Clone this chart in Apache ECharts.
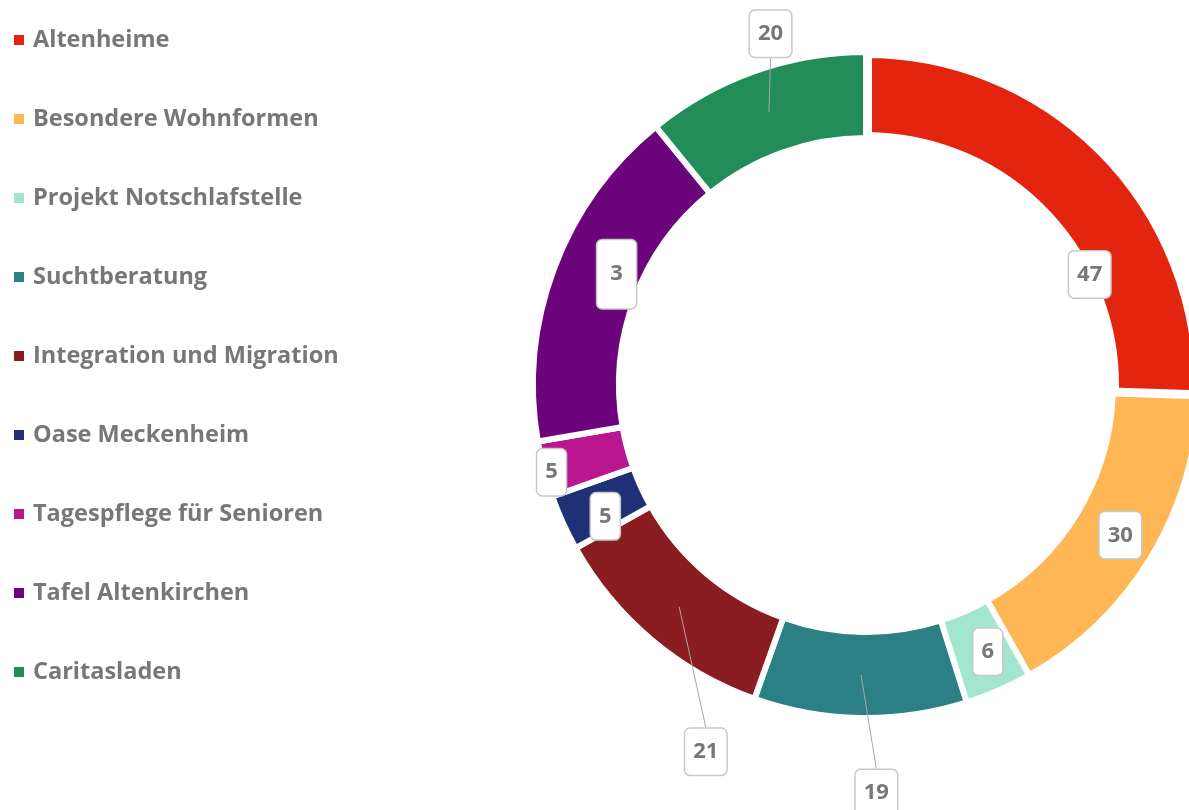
<!DOCTYPE html>
<html>
<head>
<meta charset="utf-8">
<script src="https://cdn.jsdelivr.net/npm/echarts@6/dist/echarts.min.js"></script>
<style>
  html, body { margin: 0; padding: 0; background: #fff; }
  #chart { width: 1189px; height: 810px; }
</style>
</head>
<body>
<div id="chart"></div>
<script>
// Daten
var categories = ['Altenheime', 'Besondere Wohnformen', 'Projekt Notschlafstelle', 'Suchtberatung',
  'Integration und Migration', 'Oase Meckenheim', 'Tagespflege für Senioren', 'Tafel Altenkirchen', 'Caritasladen'];
var values = [47, 30, 6, 19, 21, 5, 5, 31, 20];
var labelTexts = ['47', '30', '6', '19', '21', '5', '5', '3', '20'];
var colors = ['#e32510', '#ffb655', '#a3e6d0', '#2b7f85', '#8b1c21', '#203076', '#b9168f', '#6c057c', '#238d5a'];

// Beschriftungen wie im Original verschoben
var outsideIdx = [3, 4, 8];
var labelNudge = [[13, 93], [4, -2], [5, -2], [42, 50], [96, 93], [6, 10], [-31, 13], [25, -8], [50, -14]];

var pieData = categories.map(function (name, i) {
  var item = { name: name, value: values[i], itemStyle: { color: colors[i] } };
  if (i === 0) item.itemStyle.borderWidth = 12;
  return item;
});

// zweite, unsichtbare Serie nur fuer Beschriftungen + Linien (liegt oben)
var labelData = categories.map(function (name, i) {
  var item = { name: name, value: values[i] };
  if (outsideIdx.indexOf(i) >= 0) {
    item.label = { position: 'outside' };
    item.labelLine = { show: true };
  }
  if (i === 7) item.label = { padding: [23, 13] };
  return item;
});

var myChart = echarts.init(document.getElementById('chart'));
var option = {
  animation: false,
  color: colors,
  legend: {
    orient: 'vertical',
    left: 12,
    top: 28,
    padding: 0,
    icon: 'rect',
    itemWidth: 12,
    itemHeight: 12,
    itemGap: 55,
    selectedMode: false,
    textStyle: {
      fontFamily: 'Open Sans',
      fontWeight: 'bold',
      fontSize: 23.5,
      lineHeight: 24,
      color: '#777777',
      padding: [0, 0, 0, 3]
    },
    data: categories
  },
  series: [{
    type: 'pie',
    center: [866, 385],
    radius: [247, 333],
    startAngle: 90,
    clockwise: true,
    emphasis: { disabled: true },
    itemStyle: { borderColor: '#ffffff', borderWidth: 6 },
    label: { show: false },
    labelLine: { show: false },
    data: pieData
  }, {
    type: 'pie',
    z: 5,
    silent: true,
    center: [866, 385],
    radius: [247, 333],
    startAngle: 90,
    clockwise: true,
    avoidLabelOverlap: false,
    emphasis: { disabled: true },
    itemStyle: { color: 'rgba(0,0,0,0)', borderWidth: 0 },
    label: {
      show: true,
      position: 'inside',
      formatter: function (p) { return labelTexts[p.dataIndex]; },
      fontFamily: 'Open Sans',
      fontWeight: 'bold',
      fontSize: 22,
      lineHeight: 22,
      color: '#777777',
      backgroundColor: '#ffffff',
      borderColor: '#c8c8c8',
      borderWidth: 1.5,
      borderRadius: 5,
      padding: [12, 8]
    },
    labelLine: {
      show: false,
      length: 25,
      length2: 0,
      lineStyle: { color: '#a6a6a6', width: 1, opacity: 1 }
    },
    labelLayout: function (p) {
      var n = labelNudge[p.dataIndex];
      var res = { dx: n[0], dy: n[1] };
      var pts = p.labelLinePoints;
      if (outsideIdx.indexOf(p.dataIndex) >= 0 && pts && pts.length > 1) {
        // Linie beginnt in der Ringmitte und endet an der Kante der Box
        var ux = pts[1][0] - pts[0][0], uy = pts[1][1] - pts[0][1];
        var len = Math.sqrt(ux * ux + uy * uy) || 1;
        var sx = pts[0][0] - ux / len * 43, sy = pts[0][1] - uy / len * 43;
        var r = p.labelRect;
        var cx = r.x + r.width / 2 + n[0];
        var cy = r.y + r.height / 2 + n[1];
        var ey = cy < sy ? cy + r.height / 2 : cy - r.height / 2;
        res.labelLinePoints = [[sx, sy], [cx, ey], [cx, ey]];
      }
      return res;
    },
    data: labelData
  }]
};
myChart.setOption(option);
</script>
</body>
</html>
